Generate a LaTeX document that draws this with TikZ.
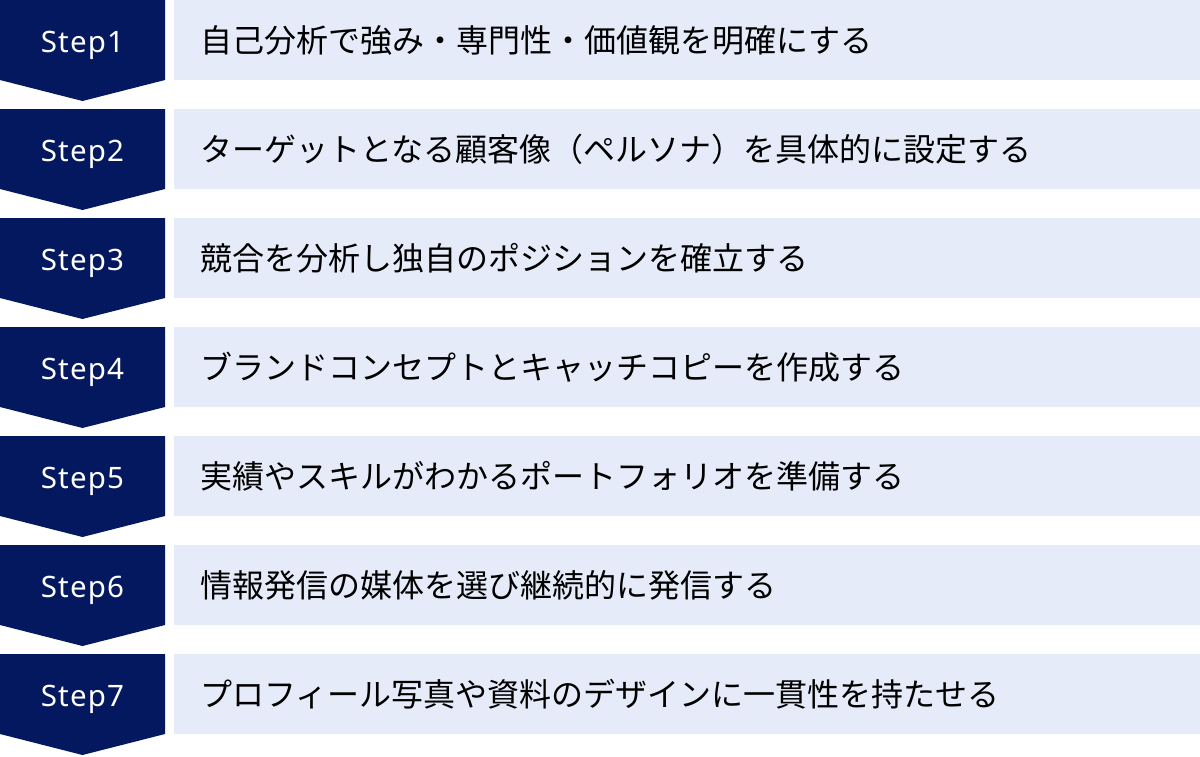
\documentclass[tikz,border=0pt]{standalone}
\usepackage{fontspec}
\usetikzlibrary{calc}
\newfontfamily\jpfont{Noto Sans CJK JP}
\newfontfamily\stepfont[LetterSpace=4]{Noto Sans}
\definecolor{navy}{HTML}{041860}
\definecolor{lightbox}{HTML}{E5EBF8}
\tikzset{
  arrowshape/.style={fill=navy, draw=none},
  barbox/.style={fill=lightbox, draw=none, minimum width=1026pt, minimum height=80pt, inner sep=0pt, anchor=north west},
  steplabel/.style={text=white, font=\stepfont\fontsize{29.5}{34}\selectfont, inner sep=0pt, anchor=base},
  desclabel/.style={text=black, font=\jpfont\fontsize{32}{38}\selectfont, inner sep=0pt, anchor=west},
}
\begin{document}
\begin{tikzpicture}[x=1pt,y=-1pt]
\useasboundingbox (0,0) rectangle (1200,756);
\foreach \i/\txt in {%
  1/{自己分析で強み・専門性・価値観を明確にする},
  2/{ターゲットとなる顧客像（ペルソナ）を具体的に設定する},
  3/{競合を分析し独自のポジションを確立する},
  4/{ブランドコンセプトとキャッチコピーを作成する},
  5/{実績やスキルがわかるポートフォリオを準備する},
  6/{情報発信の媒体を選び継続的に発信する},
  7/{プロフィール写真や資料のデザインに一貫性を持たせる}}{
  \pgfmathsetmacro{\rowtop}{109*(\i-1)}
  \coordinate (a\i) at (0,\rowtop);
  \fill[arrowshape] (a\i) -- ++(165,0) -- ++(0,80) -- ++(-82.5,21) -- ++(-82.5,-21) -- cycle;
  \node[steplabel] (s\i) at ($(a\i)+(82.5,52.5)$) {Step\i};
  \node[barbox] (b\i) at ($(a\i)+(174,0)$) {};
  \node[desclabel] (t\i) at ($(a\i)+(200,40)$) {\txt};
}
\end{tikzpicture}
\end{document}
